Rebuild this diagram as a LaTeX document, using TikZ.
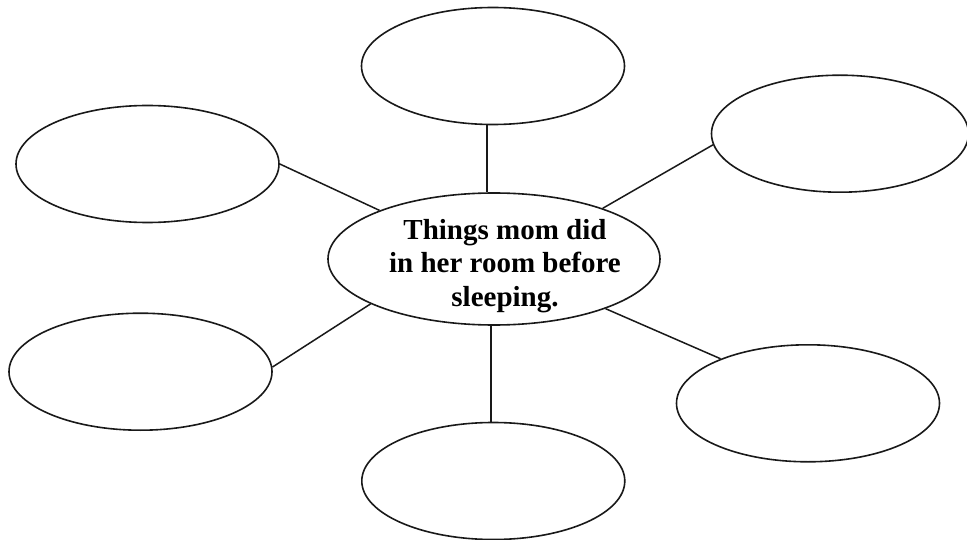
\documentclass[tikz,border=0pt]{standalone}
\usepackage{fontspec}
\setmainfont{Liberation Serif}
\usetikzlibrary{shapes.geometric}
\tikzset{
  bubble/.style={draw=black!90, line width=1.6pt, ellipse, inner sep=0pt,
    minimum width=263pt, minimum height=117pt},
  hub/.style={draw=black!90, line width=1.6pt, ellipse, inner sep=0pt,
    minimum width=332pt, minimum height=132pt},
  hubtext/.style={align=center, inner sep=0pt,
    font=\bfseries\fontsize{29}{33.3}\selectfont},
  link/.style={draw=black!90, line width=1.5pt}
}
\begin{document}
\begin{tikzpicture}[x=1pt, y=-1pt]
  \useasboundingbox (0,0) rectangle (967,540);
  \clip (0,0) rectangle (967,540);
  % centre
  \node[hub] (ctr) at (494,259) {};
  \node[hubtext] (ctrtext) at (505,266) {Things mom did\\in her room before\\sleeping.};
  % satellites
  \node[bubble] (top) at (493,66) {};
  \node[bubble] (tl) at (147.5,164) {};
  \node[bubble, minimum width=257pt] (tr) at (840,133.7) {};
  \node[bubble] (bl) at (140.5,371.7) {};
  \node[bubble] (br) at (808,403.3) {};
  \node[bubble] (bot) at (493.3,481) {};
  % connectors
  \draw[link] (top.264.8) -- (top.264.8 |- ctr.north);
  \draw[link] (bot.92.6) -- (bot.92.6 |- ctr.south);
  \draw[link] (tl.-0.9) -- (ctr.157.8);
  \draw[link] (bl.2.2) -- (ctr.200.9);
  \draw[link] (tr.185.5) -- (ctr.25.6);
  \draw[link] (br.153.8) -- (ctr.-24.1);
\end{tikzpicture}
\end{document}
